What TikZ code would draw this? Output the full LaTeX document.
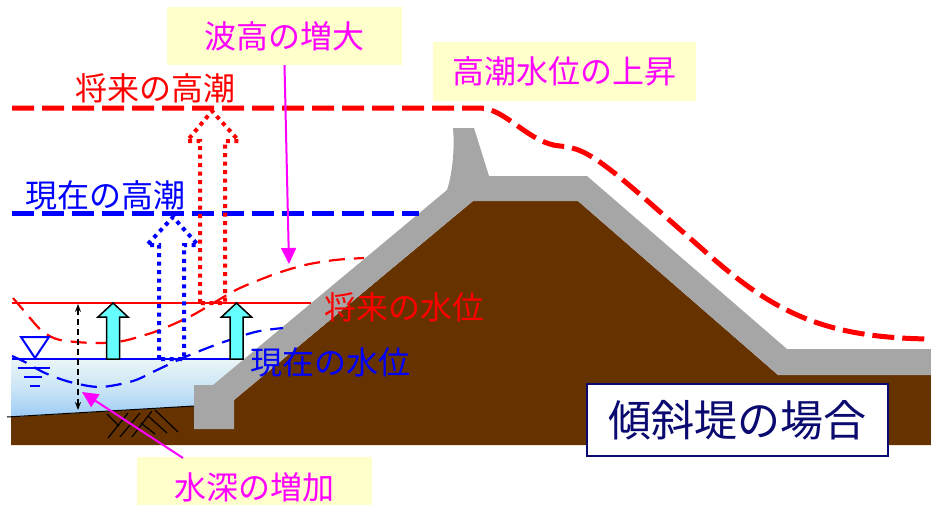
\documentclass[tikz,border=0pt]{standalone}
\usepackage{fontspec}
\newfontfamily\jpfont{Noto Sans CJK JP}
\usetikzlibrary{arrows.meta}

\definecolor{soil}{HTML}{663300}
\definecolor{armour}{HTML}{A6A6A6}
\definecolor{seatop}{HTML}{EAF6F6}
\definecolor{seabot}{HTML}{9CCBF5}
\definecolor{notebg}{HTML}{FFFFCC}
\definecolor{notefg}{HTML}{FF00FF}
\definecolor{risefill}{HTML}{66FFFF}
\definecolor{navy}{HTML}{0A0A70}

\begin{document}
\begin{tikzpicture}[x=1pt,y=-1pt,>={Stealth[length=8pt,width=6pt]},
		tide/.style={line width=5pt,dash pattern=on 22pt off 8pt},
		wave/.style={line width=2.2pt,dash pattern=on 16pt off 9pt},
		rise/.style={line width=4pt,dash pattern=on 4pt off 4.5pt},
		lvltext/.style={font=\jpfont\fontsize{32}{32}\selectfont,inner sep=0pt},
		note/.style={lvltext,fill=notebg,text=notefg,minimum width=235pt,minimum height=58pt},
		pointer/.style={notefg,line width=2pt,-{Triangle[length=16pt,width=15pt]}}]
		\useasboundingbox (0,0) rectangle (931,504);
		\clip (0,0) rectangle (931,504);

		% The sea bed and the dike
		\coordinate (bedL) at (11,417);
		\coordinate (bedR) at (194,406);
		\coordinate (toeTL) at (194,385);
		\coordinate (toeTR) at (213,385);
		\coordinate (toeBL) at (194,429);
		\coordinate (toeBR) at (234,429);
		\coordinate (coreL) at (234,400);
		\coordinate (coreTL) at (473,201);
		\coordinate (coreTR) at (578,201);
		\coordinate (coreR) at (778,375);
		\coordinate (wallB) at (447,190);
		\coordinate (wallTL) at (453,128);
		\coordinate (wallTR) at (474,128);
		\coordinate (crestL) at (489,176);
		\coordinate (crestR) at (587,176);
		\coordinate (backB) at (787,349);
		\coordinate (swl) at (244,359);

		\fill[soil] (bedL) -- (bedR) -- (coreL) -- (coreTL) -- (coreTR) -- (coreR) -- (931,375) -- (931,445) -- (11,445) -- cycle;
		\shade[top color=seatop,bottom color=seabot,middle color=seatop!60!seabot] (11,359) -- (swl) -- (toeTR) -- (toeTL) -- (bedR) -- (bedL) -- cycle;
		\fill[armour] (toeTL) -- (toeTR) -- (wallB) .. controls (452,175) and (455,150) .. (wallTL) -- (wallTR) -- (crestL) -- (crestR) -- (backB) -- (931,349) -- (931,375) -- (coreR) -- (coreTR) -- (coreTL) -- (coreL) -- (toeBR) -- (toeBL) -- cycle;
		\draw[line width=1pt] (7,417) -- (bedR);

		% The soil mark
		\draw[line width=1.2pt] (108,438) -- (128,413) (120,437) -- (140,413) (132,437) -- (152,411)
			(107,414) -- (119,426) (155,410) -- (178,432) (148,416) -- (167,433) (141,423) -- (155,434);

		% Waves now and later
		\draw[wave,red] plot[smooth] coordinates {(13,298) (25,312) (42,331) (60,340) (95,343) (123,341) (157,331) (191,316) (215,302) (240,288) (275,274) (305,265) (335,260) (364,258)};
		\draw[wave,blue] plot[smooth] coordinates {(12,356) (25,362) (45,373) (70,382) (100,387) (133,381) (157,370) (185,357) (218,344) (255,332) (283,328)};

		% Still water levels
		\draw[red,line width=1.5pt] (12,303) -- (311,303);
		\draw[blue,line width=2pt] (12,359) -- (swl);
		\draw[blue,line width=2pt] (21,337) -- (49,337) -- (35,358) -- cycle;
		\draw[blue,line width=2pt] (18,368) -- (50,368) (24,377) -- (42,377) (30,386) -- (40,386);

		% High tide levels
		\draw[tide,blue] (12,213) -- (419,213);
		\draw[tide,red] (12,108) -- (480,108) .. controls (505,108) and (530,144) .. (560,146)
			.. controls (590,148) and (610,168) .. (700,247) .. controls (770,310) and (820,338) .. (931,339);

		% The rise of the tide
		\draw[rise,blue] (159,359) -- (159,245) -- (147,245) -- (173,217) -- (198,245) -- (184,245) -- (184,359) -- cycle;
		\draw[rise,red] (200,303) -- (200,141) -- (187,141) -- (212,111) -- (239,141) -- (225,141) -- (225,303) -- cycle;
		\foreach \cx in {113,236.5}
			\filldraw[fill=risefill,draw=black,line width=1.5pt] (\cx-6.5,359) -- (\cx-6.5,317) -- (\cx-15,317) -- (\cx,303) -- (\cx+15,317) -- (\cx+6.5,317) -- (\cx+6.5,359) -- cycle;

		% The water depth
		\coordinate (depthtop) at (78,304);
		\coordinate (depthbot) at (78,410);
		\draw[<->,line width=1.5pt,dash pattern=on 6pt off 4pt] (depthtop) -- (depthbot);

		% Level names
		\node[lvltext,text=red] (futurehigh) at (155,88) {将来の高潮};
		\node[lvltext,text=blue] (nowhigh) at (105,195) {現在の高潮};
		\node[lvltext,text=red] (futurelvl) at (404,307) {将来の水位};
		\node[lvltext,text=blue] (nowlvl) at (330,362) {現在の水位};

		% Notes and pointers
		\node[note] (wavenote) at (284.5,36) {波高の増大};
		\node[note,minimum width=263pt,minimum height=59pt] (tidenote) at (564.5,71.5) {高潮水位の上昇};
		\node[note,minimum height=60pt] (depthnote) at (254.5,487) {水深の増加};
		\coordinate (wavetip) at (289,264);
		\coordinate (depthfoot) at (183,458);
		\coordinate (depthtip) at (82,392);
		\draw[pointer] (wavenote.south) -- (wavetip);
		\draw[pointer] (depthfoot) -- (depthtip);

		\node[draw=navy,line width=1.5pt,fill=white,text=navy,inner sep=0pt,minimum width=301pt,minimum height=72pt,
			font=\jpfont\fontsize{43}{43}\selectfont] (kind) at (737.5,420) {傾斜堤の場合};
	\end{tikzpicture}
\end{document}
